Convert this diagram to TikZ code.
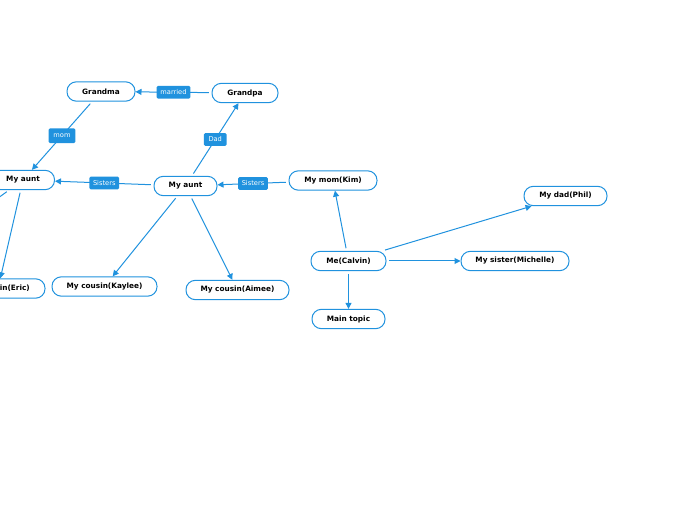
\documentclass[tikz,border=0pt]{standalone}
\usepackage{fontspec}
\setsansfont{DejaVu Sans}
\usetikzlibrary{arrows.meta}
\definecolor{mapblue}{RGB}{32,146,222}

\begin{document}
\begin{tikzpicture}[x=.75pt,y=-.75pt,line width=.75pt,
  topic/.style={draw=mapblue,fill=white,rounded corners=7pt,minimum height=14.5pt,inner sep=1pt,font=\sffamily\bfseries\fontsize{5.5}{6}\selectfont},
  rel/.style={fill=mapblue,text=white,rounded corners=1pt,inner xsep=2.8pt,inner ysep=1.6pt,minimum width=17pt,minimum height=9.5pt,font=\sffamily\fontsize{5}{6}\selectfont},
  link/.style={draw=mapblue,-{Triangle[length=4.5pt,width=4.5pt]},shorten <=2pt}]
\useasboundingbox (0,0) rectangle (696,520);
\clip (0,0) rectangle (696,520);
\node[topic,minimum width=51pt] (grandma) at (101,91.5) {Grandma};
\node[topic,minimum width=49.5pt] (grandpa) at (245,93) {Grandpa};
\node[topic,minimum width=47.25pt] (auntL) at (23,180) {My aunt};
\node[topic,minimum width=47.25pt] (auntR) at (185.5,186) {My aunt};
\node[topic,minimum width=66pt] (mom) at (333,180.5) {My mom(Kim)};
\node[topic,minimum width=62.25pt] (dad) at (565.5,196) {My dad(Phil)};
\node[topic,minimum width=56.25pt] (me) at (348.5,261) {Me(Calvin)};
\node[topic,minimum width=81pt] (sister) at (515,261) {My sister(Michelle)};
\node[topic,minimum width=54.75pt] (maintopic) at (348.5,319) {Main topic};
\node[topic,minimum width=78.75pt] (kaylee) at (104.5,286.5) {My cousin(Kaylee)};
\node[topic,minimum width=77.25pt] (aimee) at (237.5,290) {My cousin(Aimee)};
\node[topic,minimum width=70.5pt] (eric) at (-2,288.5) {My cousin(Eric)};
\coordinate (offleft) at (-60,240);
% relations
\draw[link] (grandpa) -- node[rel] {married} (grandma);
\draw[link] (grandma) -- node[rel,minimum width=20pt,minimum height=11pt] {mom} (auntL);
\draw[link] (auntR) -- node[rel] {Dad} (grandpa);
\draw[link] (auntR) -- node[rel] {Sisters} (auntL);
\draw[link] (mom) -- node[rel] {Sisters} (auntR);
% children
\draw[link] (auntL) -- (eric);
\draw[link] (auntL) -- (offleft);
\draw[link] (auntR) -- (kaylee);
\draw[link] (auntR) -- (aimee);
\draw[link] (me) -- (mom);
\draw[link] (me) -- (dad);
\draw[link] (me) -- (sister);
\draw[link] (me) -- (maintopic);
\end{tikzpicture}
\end{document}
